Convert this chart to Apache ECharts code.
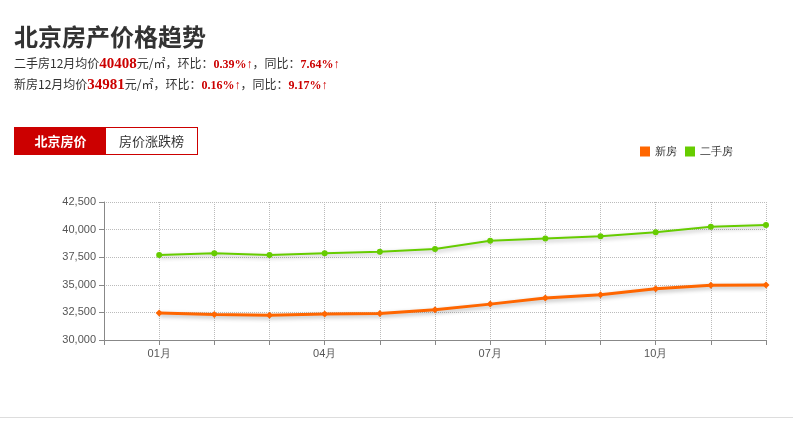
<!DOCTYPE html>
<html><head><meta charset="utf-8">
<script src="https://cdn.jsdelivr.net/npm/echarts@6/dist/echarts.min.js"></script>
<style>
body{margin:0;width:793px;height:422px;background:#fff;font-family:"Liberation Serif","Noto Sans CJK SC",serif;position:relative;overflow:hidden}
#t{position:absolute;left:14px;top:18px;font-size:24px;font-weight:bold;color:#333;font-family:"Noto Sans CJK SC";letter-spacing:0px}
.l{position:absolute;left:14px;font-size:12px;color:#333;font-family:"Noto Sans CJK SC";white-space:nowrap}
.r{color:#c00;font-weight:bold;font-family:"Liberation Serif"}
.big{color:#c00;font-size:15px;font-family:"Liberation Serif";font-weight:bold}
#tabs{position:absolute;left:14px;top:127px;height:26px;border:1px solid #c00;display:flex;font-family:"Noto Sans CJK SC";font-size:13px}
#tabs div{width:91px;text-align:center;line-height:26px}
#c{position:absolute;left:0;top:0;width:793px;height:422px}
#hr{position:absolute;left:0;top:417px;width:793px;border-top:1px solid #ddd}
</style></head><body>
<div id="c"></div>
<div id="t">北京房产价格趋势</div>
<div class="l" style="top:54px">二手房12月均价<span class="big">40408</span>元/㎡，环比：<span class="r">0.39%↑</span>，同比：<span class="r">7.64%↑</span></div>
<div class="l" style="top:75px">新房12月均价<span class="big">34981</span>元/㎡，环比：<span class="r">0.16%↑</span>，同比：<span class="r">9.17%↑</span></div>
<div id="tabs"><div style="background:#c00;color:#fff;font-weight:bold">北京房价</div><div style="color:#333">房价涨跌榜</div></div>
<div id="hr"></div>
<script>
const months=['','01月','02月','03月','04月','05月','06月','07月','08月','09月','10月','11月','12月'];
const newHouse=[null,32450,32300,32250,32350,32400,32750,33250,33800,34100,34650,34950,34981];
const secondHand=[null,37700,37850,37700,37850,38000,38250,39000,39200,39400,39750,40250,40408];
const c=echarts.init(document.getElementById('c'));
const shadow={shadowColor:'rgba(0,0,0,0.3)',shadowBlur:4,shadowOffsetY:2};
c.setOption({
 animation:false,
 legend:{right:55,top:141,itemWidth:10,itemHeight:10,itemGap:8,textStyle:{fontSize:11,color:'#333'},icon:'rect',data:['新房','二手房']},
 grid:{left:104,right:27,top:202,bottom:82},
 xAxis:{type:'category',boundaryGap:false,data:months,
  axisLine:{lineStyle:{color:'#888'}},axisTick:{interval:0,lineStyle:{color:'#888'}},
  axisLabel:{interval:(i)=>i%3===1,color:'#555',fontSize:11},
  splitLine:{show:true,interval:0,lineStyle:{type:'dotted',color:'#bbb'}}},
 yAxis:{type:'value',min:30000,max:42500,interval:2500,
  axisLine:{show:true,lineStyle:{color:'#888'}},axisTick:{show:true},
  axisLabel:{color:'#555',fontSize:11},
  splitLine:{lineStyle:{type:'dotted',color:'#bbb'}}},
 series:[
  {name:'新房',type:'line',data:newHouse,symbol:'diamond',symbolSize:7,color:'#ff6600',lineStyle:Object.assign({width:3},shadow)},
  {name:'二手房',type:'line',data:secondHand,symbol:'circle',symbolSize:6,color:'#66cc00',lineStyle:Object.assign({width:2},shadow)}
 ]
});
</script></body></html>
